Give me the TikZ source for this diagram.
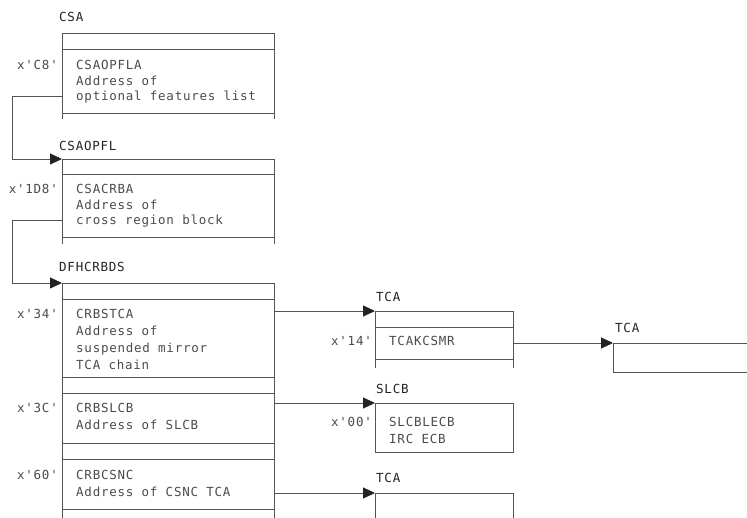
\documentclass[tikz,border=0pt]{standalone}
\usepackage{fontspec}
\setmonofont[LetterSpace=6]{DejaVu Sans Mono}
\definecolor{rule}{RGB}{85,85,85}
\definecolor{ink}{RGB}{75,75,75}
\definecolor{head}{RGB}{35,35,35}
\usetikzlibrary{arrows.meta}

\begin{document}
\begin{tikzpicture}[x=1pt,y=-1pt,
    every node/.style={font=\ttfamily\fontsize{12.5}{17}\selectfont,text=ink,inner sep=0pt},
    field/.style={anchor=north west,align=left},
    tight/.style={font=\ttfamily\fontsize{12.5}{15.5}\selectfont},
    offset/.style={anchor=east},
    title/.style={anchor=west,text=head},
    box/.style={rule,line width=0.9pt},
    ptr/.style={rule,line width=0.9pt,-{Triangle[length=12pt,width=11pt,color=head]}}]
  \useasboundingbox (0,0) rectangle (747,518);

  % CSA
  \node[title] (csa) at (59,17) {CSA};
  \draw[box] (62,119) -- (62,33) -- (274,33) -- (274,119)
    (62,49) -- (274,49) (62,113) -- (274,113);
  \node[offset] (csaoff) at (58,65) {x'C8'};
  \node[field,tight] (csaopfla) at (76,60.4) {CSAOPFLA\\Address of\\optional features list};
  \coordinate (csaptr) at (62,96);

  % CSAOPFL
  \node[title] (opfl) at (59,146) {CSAOPFL};
  \coordinate (opfltop) at (62,159);
  \draw[box] (62,244) -- (opfltop) -- (274,159) -- (274,244)
    (62,174) -- (274,174) (62,237) -- (274,237);
  \node[offset] (opfloff) at (58,189) {x'1D8'};
  \node[field,tight] (csacrba) at (76,184.4) {CSACRBA\\Address of\\cross region block};
  \coordinate (opflptr) at (62,220);

  % DFHCRBDS
  \node[title] (crb) at (59,267) {DFHCRBDS};
  \coordinate (crbtop) at (62,283);
  \draw[box] (62,518) -- (crbtop) -- (274,283) -- (274,518)
    (62,299) -- (274,299) (62,377) -- (274,377) (62,393) -- (274,393)
    (62,443) -- (274,443) (62,459) -- (274,459) (62,509) -- (274,509);
  \node[offset] (off34) at (58,314) {x'34'};
  \node[field] (crbstca) at (76,309.4) {CRBSTCA\\Address of\\suspended mirror\\TCA chain};
  \node[offset] (off3c) at (58,408) {x'3C'};
  \node[field] (crbslcb) at (76,403.4) {CRBSLCB\\Address of SLCB};
  \node[offset] (off60) at (58,475) {x'60'};
  \node[field] (crbcsnc) at (76,470.4) {CRBCSNC\\Address of CSNC TCA};
  \coordinate (stcaptr) at (274,311);
  \coordinate (slcbptr) at (274,403);
  \coordinate (csncptr) at (274,493);

  % TCA (mirror chain)
  \node[title] (tcaa) at (376,297) {TCA};
  \coordinate (tcaatop) at (375,311);
  \draw[box] (375,368) -- (tcaatop) -- (513,311) -- (513,368)
    (375,327) -- (513,327) (375,359) -- (513,359);
  \node[offset] (off14) at (372,341) {x'14'};
  \node[field] (tcakcsmr) at (389,336.4) {TCAKCSMR};
  \coordinate (kcsmrptr) at (513,343);

  % next TCA
  \node[title] (tcab) at (615,328) {TCA};
  \coordinate (tcabtop) at (613,343);
  \draw[box] (747,343) -- (tcabtop) -- (613,372) -- (747,372);

  % SLCB
  \node[title] (slcb) at (376,389) {SLCB};
  \coordinate (slcbtop) at (375,403);
  \draw[box] (slcbtop) rectangle (513,452);
  \node[offset] (off00) at (372,422) {x'00'};
  \node[field] (slcblecb) at (389,417.4) {SLCBLECB\\IRC ECB};

  % CSNC TCA
  \node[title] (tcac) at (376,478) {TCA};
  \coordinate (tcactop) at (375,493);
  \draw[box] (375,518) -- (tcactop) -- (513,493) -- (513,518);

  \draw[ptr] (csaptr) -- ++(-50,0) |- (opfltop);
  \draw[ptr] (opflptr) -- ++(-50,0) |- (crbtop);
  \draw[ptr] (stcaptr) -- (tcaatop);
  \draw[ptr] (kcsmrptr) -- (tcabtop);
  \draw[ptr] (slcbptr) -- (slcbtop);
  \draw[ptr] (csncptr) -- (tcactop);
\end{tikzpicture}
\end{document}
